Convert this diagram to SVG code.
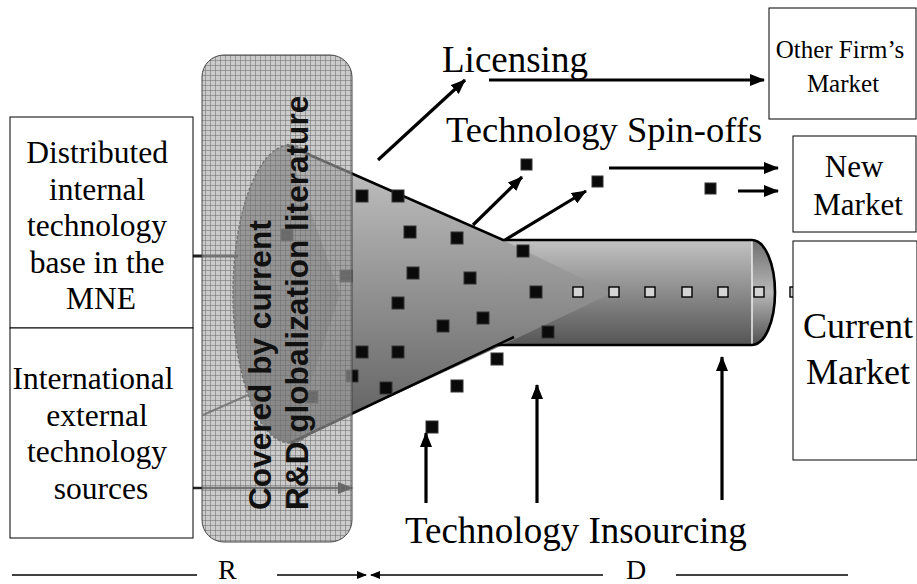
<svg xmlns="http://www.w3.org/2000/svg" width="917" height="584" viewBox="0 0 917 584">
  <defs>
    <style>
      .serif { font-family: "Liberation Serif", "Times New Roman", serif; fill: #000; }
      .box { fill: #fff; stroke: #000; stroke-width: 1; }
      .arrow { stroke: #000; stroke-width: 3.2; fill: none; }
      .thin { stroke: #000; stroke-width: 1.6; fill: none; }
      .sq { fill: #0a0a0a; stroke: #333; stroke-width: 1; }
      .lsq { fill: #d4d4d4; stroke: #000; stroke-width: 1.4; }
      .edge { stroke: #000; stroke-width: 2.6; fill: none; }
    </style>
    <marker id="head" markerUnits="userSpaceOnUse" markerWidth="15" markerHeight="12" refX="14" refY="6" orient="auto">
      <path d="M0,0 L15,6 L0,12 Z" fill="#000"/>
    </marker>
    <marker id="headSmall" markerUnits="userSpaceOnUse" markerWidth="10" markerHeight="8" refX="9" refY="4" orient="auto">
      <path d="M0,0 L10,4 L0,8 Z" fill="#000"/>
    </marker>
    <linearGradient id="coneFill" x1="0" y1="145" x2="0" y2="443" gradientUnits="userSpaceOnUse">
      <stop offset="0" stop-color="#c6c6c6"/>
      <stop offset="1" stop-color="#5c5c5c"/>
    </linearGradient>
    <linearGradient id="tubeFill" x1="0" y1="240" x2="0" y2="345" gradientUnits="userSpaceOnUse">
      <stop offset="0" stop-color="#c2c2c2"/>
      <stop offset="1" stop-color="#555"/>
    </linearGradient>
    <linearGradient id="capFill" x1="0" y1="240" x2="0" y2="345" gradientUnits="userSpaceOnUse">
      <stop offset="0" stop-color="#6e6e6e"/>
      <stop offset="0.5" stop-color="#b8b8b8"/>
      <stop offset="1" stop-color="#505050"/>
    </linearGradient>
    <linearGradient id="mouthFill" x1="0" y1="145" x2="0" y2="443" gradientUnits="userSpaceOnUse">
      <stop offset="0" stop-color="#909090"/>
      <stop offset="1" stop-color="#505050"/>
    </linearGradient>
    <pattern id="grid" width="5" height="5" patternUnits="userSpaceOnUse">
      <rect width="5" height="5" fill="#a9a9a9" fill-opacity="0.6"/>
      <path d="M0,0.5 H5 M0.5,0 V5" stroke="#6f6f6f" stroke-width="1" stroke-opacity="0.55"/>
    </pattern>
  </defs>

  <rect width="917" height="584" fill="#fff"/>

  <!-- funnel: mouth ellipse, cone and tube -->
  <g id="funnel">
    <ellipse cx="290" cy="294" rx="57" ry="149" fill="url(#mouthFill)" stroke="#222" stroke-width="1.4" stroke-dasharray="3 2"/>
    <rect x="503" y="240" width="249" height="105" fill="url(#tubeFill)"/>
    <path d="M752,240 A23,52.5 0 0 1 752,345 Z" fill="url(#capFill)"/>
    <polygon points="287,145 503,240 612,293 503,345 290,443 340,294" fill="url(#coneFill)"/>
    <line x1="752" y1="241" x2="752" y2="344" stroke="#eee" stroke-width="1.5"/>
    <path class="edge" d="M287,145 L503,240 L752,240"/>
    <path class="edge" d="M290,443 L514,337"/>
    <path class="edge" d="M497,345 L752,345"/>
    <path class="edge" d="M752,240 A23,52.5 0 0 1 752,345"/>
  </g>

  <!-- technology units inside and around the funnel -->
  <g id="units">
    <rect class="sq" x="281" y="229" width="12" height="12"/>
    <rect class="sq" x="340" y="270" width="12" height="12"/>
    <rect class="sq" x="346" y="370" width="12" height="12"/>
    <rect class="sq" x="306" y="391" width="12" height="12"/>
    <rect class="sq" x="356" y="190" width="12" height="12"/>
    <rect class="sq" x="392" y="190" width="12" height="12"/>
    <rect class="sq" x="404" y="226" width="12" height="12"/>
    <rect class="sq" x="451" y="232" width="12" height="12"/>
    <rect class="sq" x="517" y="245" width="12" height="12"/>
    <rect class="sq" x="407" y="267" width="12" height="12"/>
    <rect class="sq" x="464" y="272" width="12" height="12"/>
    <rect class="sq" x="530" y="286" width="12" height="12"/>
    <rect class="sq" x="392" y="297" width="12" height="12"/>
    <rect class="sq" x="477" y="312" width="12" height="12"/>
    <rect class="sq" x="437" y="320" width="12" height="12"/>
    <rect class="sq" x="542" y="326" width="12" height="12"/>
    <rect class="sq" x="356" y="346" width="12" height="12"/>
    <rect class="sq" x="392" y="346" width="12" height="12"/>
    <rect class="sq" x="380" y="382" width="12" height="12"/>
    <rect class="sq" x="491" y="353" width="12" height="12"/>
    <rect class="sq" x="451" y="380" width="12" height="12"/>
    <rect class="sq" x="426" y="421" width="12" height="12"/>
    <rect class="sq" x="521" y="159" width="11" height="11"/>
    <rect class="sq" x="592" y="176" width="11" height="11"/>
    <rect class="sq" x="705" y="183" width="11" height="11"/>
    <rect class="lsq" x="573" y="287" width="10" height="10"/>
    <rect class="lsq" x="609" y="287" width="10" height="10"/>
    <rect class="lsq" x="645" y="287" width="10" height="10"/>
    <rect class="lsq" x="682" y="287" width="10" height="10"/>
    <rect class="lsq" x="718" y="287" width="10" height="10"/>
    <rect class="lsq" x="754" y="287" width="10" height="10"/>
    <rect class="lsq" x="790" y="287" width="10" height="10"/>
  </g>

  <!-- connectors -->
  <g id="connectors">
    <line x1="193" y1="256" x2="238" y2="256" stroke="#222" stroke-width="3"/>
    <line x1="203" y1="415" x2="248" y2="395" stroke="#444" stroke-width="2"/>
    <line x1="193" y1="488" x2="352" y2="488" stroke="#222" stroke-width="2.6" marker-end="url(#head)"/>
    <line class="arrow" x1="378" y1="160" x2="465" y2="80" marker-end="url(#head)"/>
    <line class="arrow" x1="489" y1="80" x2="764" y2="80" marker-end="url(#head)"/>
    <line class="arrow" x1="473" y1="225" x2="522" y2="177" marker-end="url(#head)"/>
    <line class="arrow" x1="505" y1="240" x2="586" y2="191" marker-end="url(#head)"/>
    <line class="arrow" x1="609" y1="168" x2="778" y2="168" marker-end="url(#head)"/>
    <line class="arrow" x1="738" y1="191" x2="778" y2="191" marker-end="url(#head)"/>
    <line class="arrow" x1="426" y1="503" x2="426" y2="433" marker-end="url(#head)"/>
    <line class="arrow" x1="537" y1="503" x2="537" y2="385" marker-end="url(#head)"/>
    <line class="arrow" x1="722" y1="500" x2="722" y2="357" marker-end="url(#head)"/>
    <line class="thin" x1="12" y1="575" x2="197" y2="575"/>
    <line class="thin" x1="277" y1="575" x2="366" y2="575" marker-end="url(#headSmall)"/>
    <line class="thin" x1="603" y1="575" x2="371" y2="575" marker-end="url(#headSmall)"/>
    <line class="thin" x1="676" y1="575" x2="848" y2="575"/>
  </g>

  <!-- band of R&D globalization literature -->
  <g id="literature-band">
    <rect x="202" y="55" width="150" height="487" rx="22" ry="22" fill="url(#grid)" stroke="#444" stroke-width="1"/>
    <g font-family="Liberation Sans, Arial, sans-serif" font-weight="bold" font-size="31.6" fill="#111">
      <text transform="translate(271,510) rotate(-90)">Covered by current</text>
      <text transform="translate(308,510) rotate(-90)">R&amp;D globalization literature</text>
    </g>
  </g>

  <g id="internal-base">
    <rect class="box" x="10" y="117" width="183" height="211"/>
    <text class="serif" font-size="31.5" text-anchor="middle">
      <tspan x="101" y="163">Distributed</tspan>
      <tspan x="101" y="199.5">internal</tspan>
      <tspan x="101" y="236">technology</tspan>
      <tspan x="101" y="272.5">base in the</tspan>
      <tspan x="101" y="309">MNE</tspan>
    </text>
  </g>

  <g id="external-sources">
    <rect class="box" x="10" y="328" width="183" height="210"/>
    <text class="serif" font-size="31.5" text-anchor="middle">
      <tspan x="97" y="389">International</tspan>
      <tspan x="101" y="425.5">external</tspan>
      <tspan x="101" y="462">technology</tspan>
      <tspan x="101" y="498.5">sources</tspan>
    </text>
  </g>

  <g id="other-firms-market">
    <rect class="box" x="769" y="8" width="147" height="111"/>
    <text class="serif" font-size="25" text-anchor="middle">
      <tspan x="843" y="58">Other Firm’s</tspan>
      <tspan x="843" y="92">Market</tspan>
    </text>
  </g>

  <g id="new-market">
    <rect class="box" x="793" y="136" width="123" height="96"/>
    <text class="serif" font-size="31" text-anchor="middle">
      <tspan x="858" y="177">New</tspan>
      <tspan x="858" y="215">Market</tspan>
    </text>
  </g>

  <g id="current-market">
    <rect class="box" x="793" y="241" width="124" height="219"/>
    <text class="serif" font-size="36">
      <tspan x="803" y="338">Current</tspan>
      <tspan x="806" y="384">Market</tspan>
    </text>
  </g>

  <g id="labels" class="serif">
    <text x="442" y="72" font-size="37">Licensing</text>
    <text x="446" y="142" font-size="36.5">Technology Spin-offs</text>
    <text x="405" y="543" font-size="37">Technology Insourcing</text>
    <text x="218" y="579" font-size="28">R</text>
    <text x="626" y="579" font-size="28">D</text>
  </g>
</svg>
